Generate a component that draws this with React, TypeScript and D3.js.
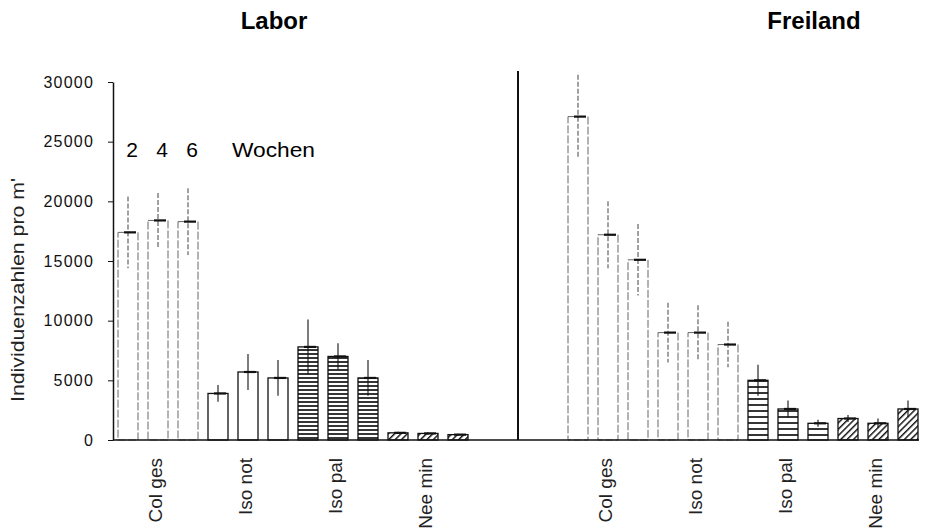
import { useEffect, useRef } from 'react';
import * as d3 from 'd3';

// Individuenzahlen (mean, error) per group and week: 2, 4, 6 Wochen
const groups = ['Col ges', 'Iso not', 'Iso pal', 'Nee min'];
const weeks = ['2', '4', '6'];
const panels = ['Labor', 'Freiland'];

const laborMeans = [17400, 18400, 18300, 3900, 5700, 5200, 7800, 7000, 5200, 600, 550, 450];
const laborErrors = [3000, 2300, 2800, 700, 1500, 1500, 2300, 1100, 1500, 100, 100, 80];
const freilandMeans = [27100, 17200, 15100, 9000, 9000, 8000, 5000, 2600, 1400, 1800, 1400, 2600];
const freilandErrors = [3500, 2800, 3000, 2500, 2300, 1900, 1300, 700, 300, 300, 400, 700];

const yTicks = [0, 5000, 10000, 15000, 20000, 25000, 30000];

const App = () => {
    const svgRef = useRef<SVGSVGElement>(null);

    useEffect(() => {
        const svg = d3.select(svgRef.current);
        svg.selectAll('*').remove();

        const font = "'Liberation Sans', Arial, sans-serif";

        // one slot per bar, 3 empty slots between the two panels
        const slots = groups.length * weeks.length;
        const gapSlots = 3;
        const x = d3.scaleBand<number>()
            .domain(d3.range(slots * 2 + gapSlots))
            .range([118, 918])
            .paddingInner(1 / 3)
            .paddingOuter(0);
        const bw = x.bandwidth();

        const y = d3.scaleLinear().domain([0, 30000]).range([440, 82]);

        const rows = panels.flatMap((panel, p) => {
            const means = p === 0 ? laborMeans : freilandMeans;
            const errs = p === 0 ? laborErrors : freilandErrors;
            return means.map((m, i) => ({
                panel,
                p,
                group: groups[Math.floor(i / weeks.length)],
                week: i % weeks.length,
                slot: p * (slots + gapSlots) + i,
                mean: m,
                err: errs[i],
            }));
        });

        // Patterns
        const defs = svg.append('defs');
        const hl = (id: string, h: number) => {
            const pat = defs.append('pattern')
                .attr('id', id)
                .attr('patternUnits', 'userSpaceOnUse')
                .attr('width', 20)
                .attr('height', h);
            pat.append('rect').attr('width', 20).attr('height', h).attr('fill', '#fff');
            pat.append('line')
                .attr('x1', 0).attr('x2', 20)
                .attr('y1', h / 2).attr('y2', h / 2)
                .attr('stroke', '#111')
                .attr('stroke-width', 1.7);
        };
        hl('hl-labor', 4);
        hl('hl-frei', 6);

        const hatch = defs.append('pattern')
            .attr('id', 'hatch')
            .attr('patternUnits', 'userSpaceOnUse')
            .attr('width', 4.5)
            .attr('height', 4.5)
            .attr('patternTransform', 'rotate(45)');
        hatch.append('rect').attr('width', 4.5).attr('height', 4.5).attr('fill', '#fff');
        hatch.append('line')
            .attr('x1', 0).attr('x2', 0)
            .attr('y1', 0).attr('y2', 4.5)
            .attr('stroke', '#111')
            .attr('stroke-width', 2.9);

        const fillFor = (d: any) => {
            if (d.group === 'Iso pal') return d.p === 0 ? 'url(#hl-labor)' : 'url(#hl-frei)';
            if (d.group === 'Nee min') return 'url(#hatch)';
            return '#fff';
        };
        const faded = (d: any) => d.group === 'Col ges' || (d.p === 1 && d.group === 'Iso not');

        // Titles
        svg.append('text')
            .attr('x', 274).attr('y', 29)
            .attr('text-anchor', 'middle')
            .style('font-family', font)
            .style('font-weight', 'bold')
            .style('font-size', '24px')
            .text(panels[0]);
        svg.append('text')
            .attr('x', 814).attr('y', 29)
            .attr('text-anchor', 'middle')
            .style('font-family', font)
            .style('font-weight', 'bold')
            .style('font-size', '24px')
            .text(panels[1]);

        // Y axis
        const yAxis = svg.append('g')
            .attr('transform', 'translate(113,0)')
            .call(d3.axisLeft(y).tickValues(yTicks).tickSize(5).tickSizeOuter(0).tickPadding(14).tickFormat(d3.format('d')));
        yAxis.select('.domain').attr('stroke', '#111').attr('stroke-width', 1.5);
        yAxis.selectAll('.tick line').attr('stroke', '#111');
        yAxis.selectAll('.tick text')
            .style('font-family', font)
            .style('font-size', '16px')
            .style('letter-spacing', '1.2px')
            .attr('fill', '#111');

        svg.append('text')
            .attr('transform', 'translate(24,290) rotate(-90)')
            .attr('text-anchor', 'middle')
            .attr('textLength', 224)
            .attr('lengthAdjust', 'spacingAndGlyphs')
            .style('font-family', font)
            .style('font-size', '19px')
            .attr('fill', '#222')
            .text("Individuenzahlen pro m'");

        // Bars
        svg.append('g')
            .selectAll('rect')
            .data(rows)
            .join('rect')
            .attr('x', d => x(d.slot)!)
            .attr('y', d => y(d.mean))
            .attr('width', bw)
            .attr('height', d => y(0) - y(d.mean))
            .attr('fill', fillFor)
            .attr('stroke', d => (faded(d) ? '#666' : '#111'))
            .attr('stroke-width', d => (faded(d) ? 1 : 1.3))
            .attr('stroke-dasharray', d => (faded(d) ? '8 2' : null));

        // Error bars
        const eb = svg.append('g');
        eb.selectAll('line.err')
            .data(rows)
            .join('line')
            .attr('class', 'err')
            .attr('x1', d => x(d.slot)! + bw / 2)
            .attr('x2', d => x(d.slot)! + bw / 2)
            .attr('y1', d => y(d.mean + d.err))
            .attr('y2', d => y(Math.max(0, d.mean - d.err)))
            .attr('stroke', d => (faded(d) ? '#555' : '#111'))
            .attr('stroke-width', 1.1)
            .attr('stroke-dasharray', d => (faded(d) ? '5 2' : null));
        eb.selectAll('line.mean')
            .data(rows)
            .join('line')
            .attr('class', 'mean')
            .attr('x1', d => x(d.slot)! + bw / 2 - 4)
            .attr('x2', d => x(d.slot)! + bw / 2 + 8)
            .attr('y1', d => y(d.mean))
            .attr('y2', d => y(d.mean))
            .attr('stroke', '#111')
            .attr('stroke-width', 2.2);

        // Baseline and panel divider
        svg.append('line')
            .attr('x1', 113).attr('x2', x(slots * 2 + gapSlots - 1)! + bw + 1)
            .attr('y1', y(0)).attr('y2', y(0))
            .attr('stroke', '#111')
            .attr('stroke-width', 1.6);
        const divX = (x(slots - 1)! + bw + x(slots + gapSlots)!) / 2;
        svg.append('line')
            .attr('x1', divX).attr('x2', divX)
            .attr('y1', y(30000) - 11).attr('y2', y(0))
            .attr('stroke', '#111')
            .attr('stroke-width', 2);

        // Week legend "2 4 6 Wochen"
        svg.append('g')
            .selectAll('text')
            .data(weeks)
            .join('text')
            .attr('x', (d, i) => x(i)! + bw / 2 + 4)
            .attr('y', 157)
            .attr('text-anchor', 'middle')
            .style('font-family', font)
            .style('font-size', '21px')
            .text(d => d);
        svg.append('text')
            .attr('x', 232).attr('y', 157)
            .attr('textLength', 83)
            .attr('lengthAdjust', 'spacingAndGlyphs')
            .style('font-family', font)
            .style('font-size', '21px')
            .text('Wochen');

        // Category labels
        const labels = panels.flatMap((panel, p) =>
            groups.map((g, gi) => ({ g, slot: p * (slots + gapSlots) + gi * weeks.length + 1 }))
        );
        svg.append('g')
            .selectAll('text')
            .data(labels)
            .join('text')
            .attr('transform', d => `translate(${x(d.slot)! + bw / 2 + 4},458) rotate(-90)`)
            .attr('text-anchor', 'end')
            .style('font-family', font)
            .style('font-size', '19px')
            .attr('fill', '#222')
            .text(d => d.g);
    }, []);

    return (
        <svg
            ref={svgRef}
            width={925}
            height={529}
            style={{ position: 'absolute', left: 0, top: 0, background: '#fff' }}
        />
    );
};

export default App;
